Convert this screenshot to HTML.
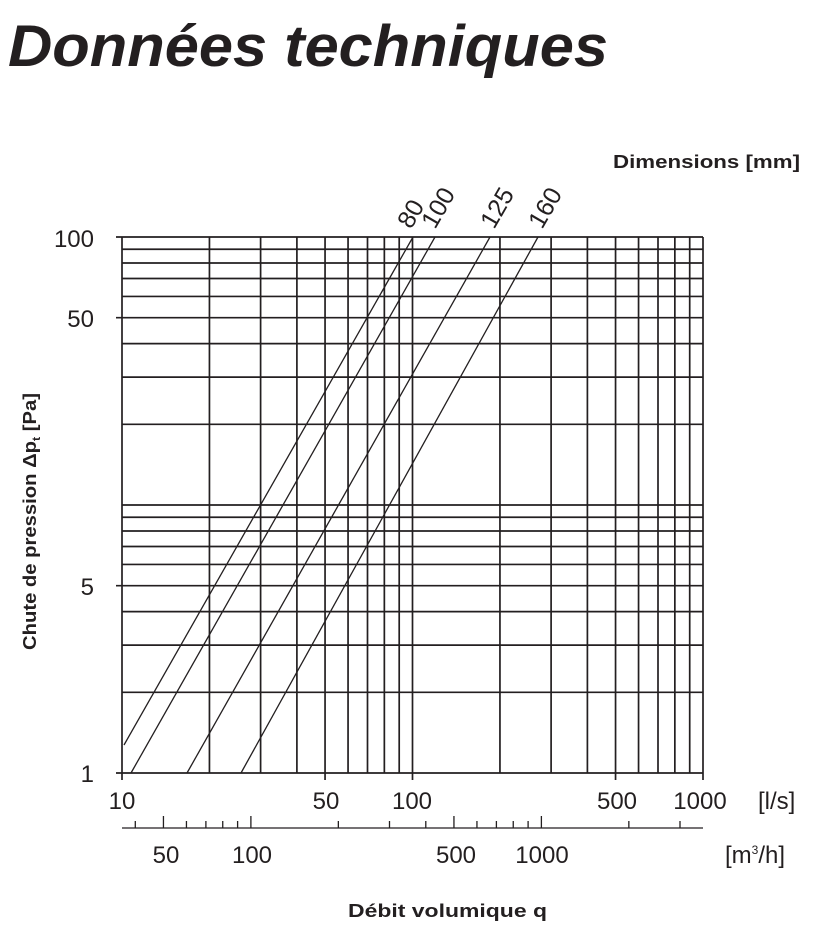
<!DOCTYPE html>
<html><head><meta charset="utf-8"><style>
html,body{margin:0;padding:0;background:#fff;}
svg{display:block;font-family:"Liberation Sans",sans-serif;}
</style></head><body>
<svg id="s" width="831" height="939" viewBox="0 0 831 939" xmlns="http://www.w3.org/2000/svg">
<text x="8" y="66" font-size="58" font-weight="bold" font-style="italic" fill="#231f20" textLength="600" lengthAdjust="spacingAndGlyphs">Données techniques</text>
<text x="613" y="168" font-size="18" font-weight="bold" fill="#231f20" textLength="187" lengthAdjust="spacingAndGlyphs">Dimensions [mm]</text>
<g id="grid" stroke="#231f20" stroke-width="1.7" fill="none"></g>
<g stroke="#231f20" stroke-width="1.3">
<line x1="124" y1="745" x2="413" y2="237"/>
<line x1="131" y1="773" x2="435" y2="237"/>
<line x1="187" y1="773" x2="490" y2="237"/>
<line x1="241" y1="773" x2="538" y2="237"/>
</g>
<g font-size="25" fill="#231f20">
<text transform="translate(411,230) rotate(-60)">80</text>
<text transform="translate(435,230) rotate(-60)">100</text>
<text transform="translate(494,230) rotate(-60)">125</text>
<text transform="translate(542,230) rotate(-60)">160</text>
</g>
<g font-size="24" fill="#231f20" text-anchor="end">
<text x="94" y="247">100</text>
<text x="94" y="327">50</text>
<text x="94" y="595">5</text>
<text x="94" y="782">1</text>
</g>
<g font-size="24" fill="#231f20" text-anchor="middle">
<text x="122" y="809">10</text>
<text x="326" y="809">50</text>
<text x="412" y="809">100</text>
<text x="617" y="809">500</text>
<text x="700" y="809">1000</text>
<text x="166" y="863">50</text>
<text x="252" y="863">100</text>
<text x="456" y="863">500</text>
<text x="542" y="863">1000</text>
</g>
<text x="758" y="809" font-size="24" fill="#231f20">[l/s]</text>
<text x="725" y="863" font-size="24" fill="#231f20">[m<tspan dy="-9" font-size="12">3</tspan><tspan dy="9">/h]</tspan></text>
<text x="348" y="917" font-size="18" font-weight="bold" fill="#231f20" textLength="199" lengthAdjust="spacingAndGlyphs">Débit volumique q</text>
<text transform="translate(36,650) rotate(-90)" font-size="18" font-weight="bold" fill="#231f20" textLength="257" lengthAdjust="spacingAndGlyphs">Chute de pression Δp<tspan dy="4" font-size="11">t</tspan><tspan dy="-4"> [Pa]</tspan></text>
</svg>
<script>
(function(){
var g=document.getElementById('grid'),ns='http://www.w3.org/2000/svg';
function L(x1,y1,x2,y2,w){var l=document.createElementNS(ns,'line');l.setAttribute('x1',x1);l.setAttribute('y1',y1);l.setAttribute('x2',x2);l.setAttribute('y2',y2);if(w)l.setAttribute('stroke-width',w);g.appendChild(l);}
var X0=122,XD=290.5,Y1=773,YD=268;
function X(v){return X0+XD*Math.log10(v/10);}
function Y(v){return Y1-YD*Math.log10(v);}
var xs=[];for(var d=10;d<=100;d*=10)for(var k=1;k<=9;k++)xs.push(d*k);xs.push(1000);
xs.forEach(function(v){var x=X(v);var big=(v==10||v==50||v==100||v==500||v==1000);L(x,237,x,big?780:773);});
var ys=[];for(var d=1;d<=10;d*=10)for(var k=1;k<=9;k++)ys.push(d*k);ys.push(100);
ys.forEach(function(v){var y=Y(v);L(v==1||v==5||v==50||v==100?116:X0,y,703,y);});
L(122,828,703,828,1.3);
var ms=[40,50,60,70,80,90,100,200,300,400,500,600,700,800,900,1000,2000,3000];
ms.forEach(function(m){var x=X(m/3.6);var big=(m==50||m==100||m==500||m==1000);L(x,828,x,big?816:821,1.3);});
})();
</script>
</body></html>
